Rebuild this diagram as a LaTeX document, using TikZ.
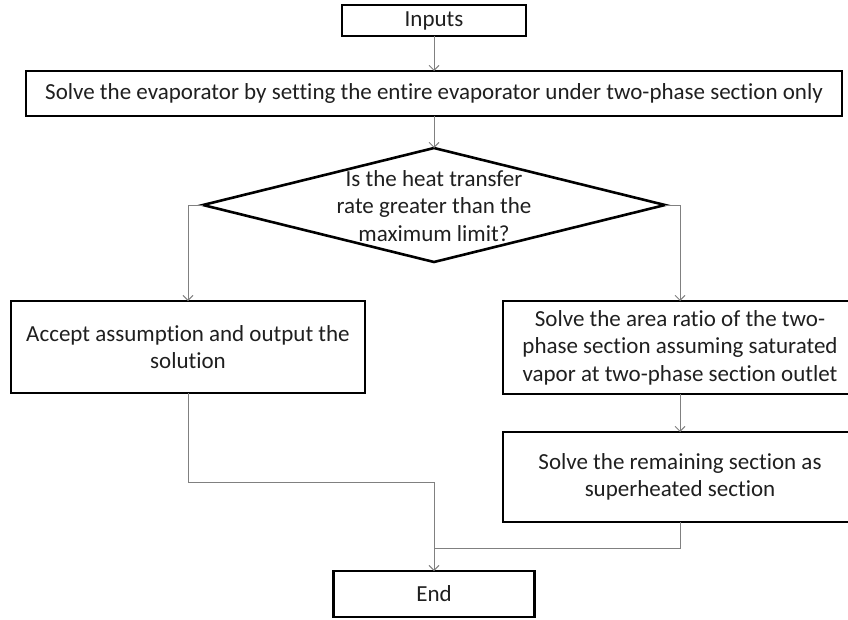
\documentclass[tikz,border=0pt]{standalone}
\usepackage{fontspec}
\setmainfont{Carlito}[Ligatures=NoCommon]
\usetikzlibrary{shapes.geometric,arrows.meta}
\begin{document}
\begin{tikzpicture}[x=1pt,y=-1pt,
  txt/.style={align=center, font=\fontsize{23}{27.5}\selectfont, text=black!88},
  box/.style={txt, draw=black, line width=2.6pt, rectangle, inner sep=0pt, outer sep=0pt},
  decision/.style={draw=black, line width=2.6pt, diamond, inner sep=0pt, outer sep=0pt},
  flow/.style={draw=black!50, line width=0.9pt, -{Straight Barb[length=5pt,width=10pt]}},
  link/.style={draw=black!50, line width=0.9pt}]
\useasboundingbox (0,0) rectangle (848,619);

% process boxes
\node[box, minimum width=184pt, minimum height=31pt] (inputs) at (434,20.5) {Inputs};
\node[box, minimum width=816pt, minimum height=45pt] (solve) at (434,93.5)
  {Solve the evaporator by setting the entire evaporator under two-phase section only};

% decision
\node[decision, minimum width=462pt, minimum height=114pt] (dec) at (434,205) {};
\node[txt, inner sep=0pt] (dectext) at (434,206) {Is the heat transfer\\rate greater than the\\maximum limit?};

\node[box, minimum width=354pt, minimum height=92pt] (accept) at (188,347)
  {Accept assumption and output the\\solution};
\node[box, minimum width=354pt, minimum height=93pt] (ratio) at (680,347.5)
  {Solve the area ratio of the two-\\phase section assuming saturated\\vapor at two-phase section outlet};
\node[box, minimum width=354pt, minimum height=90pt] (super) at (680,477)
  {Solve the remaining section as\\superheated section};
\node[box, minimum width=201pt, minimum height=46pt] (end) at (434,594) {End};

% junction points above the end box
\coordinate (j1) at (434,482);
\coordinate (j2) at (434,548);

% connectors
\draw[flow] (inputs.south) -- (solve.north);
\draw[flow] (solve.south) -- (dec.north);
\draw[flow] (dec.west) -| (accept.north);
\draw[flow] (dec.east) -| (ratio.north);
\draw[flow] (ratio.south) -- (super.north);
\draw[flow] (accept.south) |- (j1) -- (end.north);
\draw[link] (super.south) |- (j2);
\end{tikzpicture}
\end{document}
